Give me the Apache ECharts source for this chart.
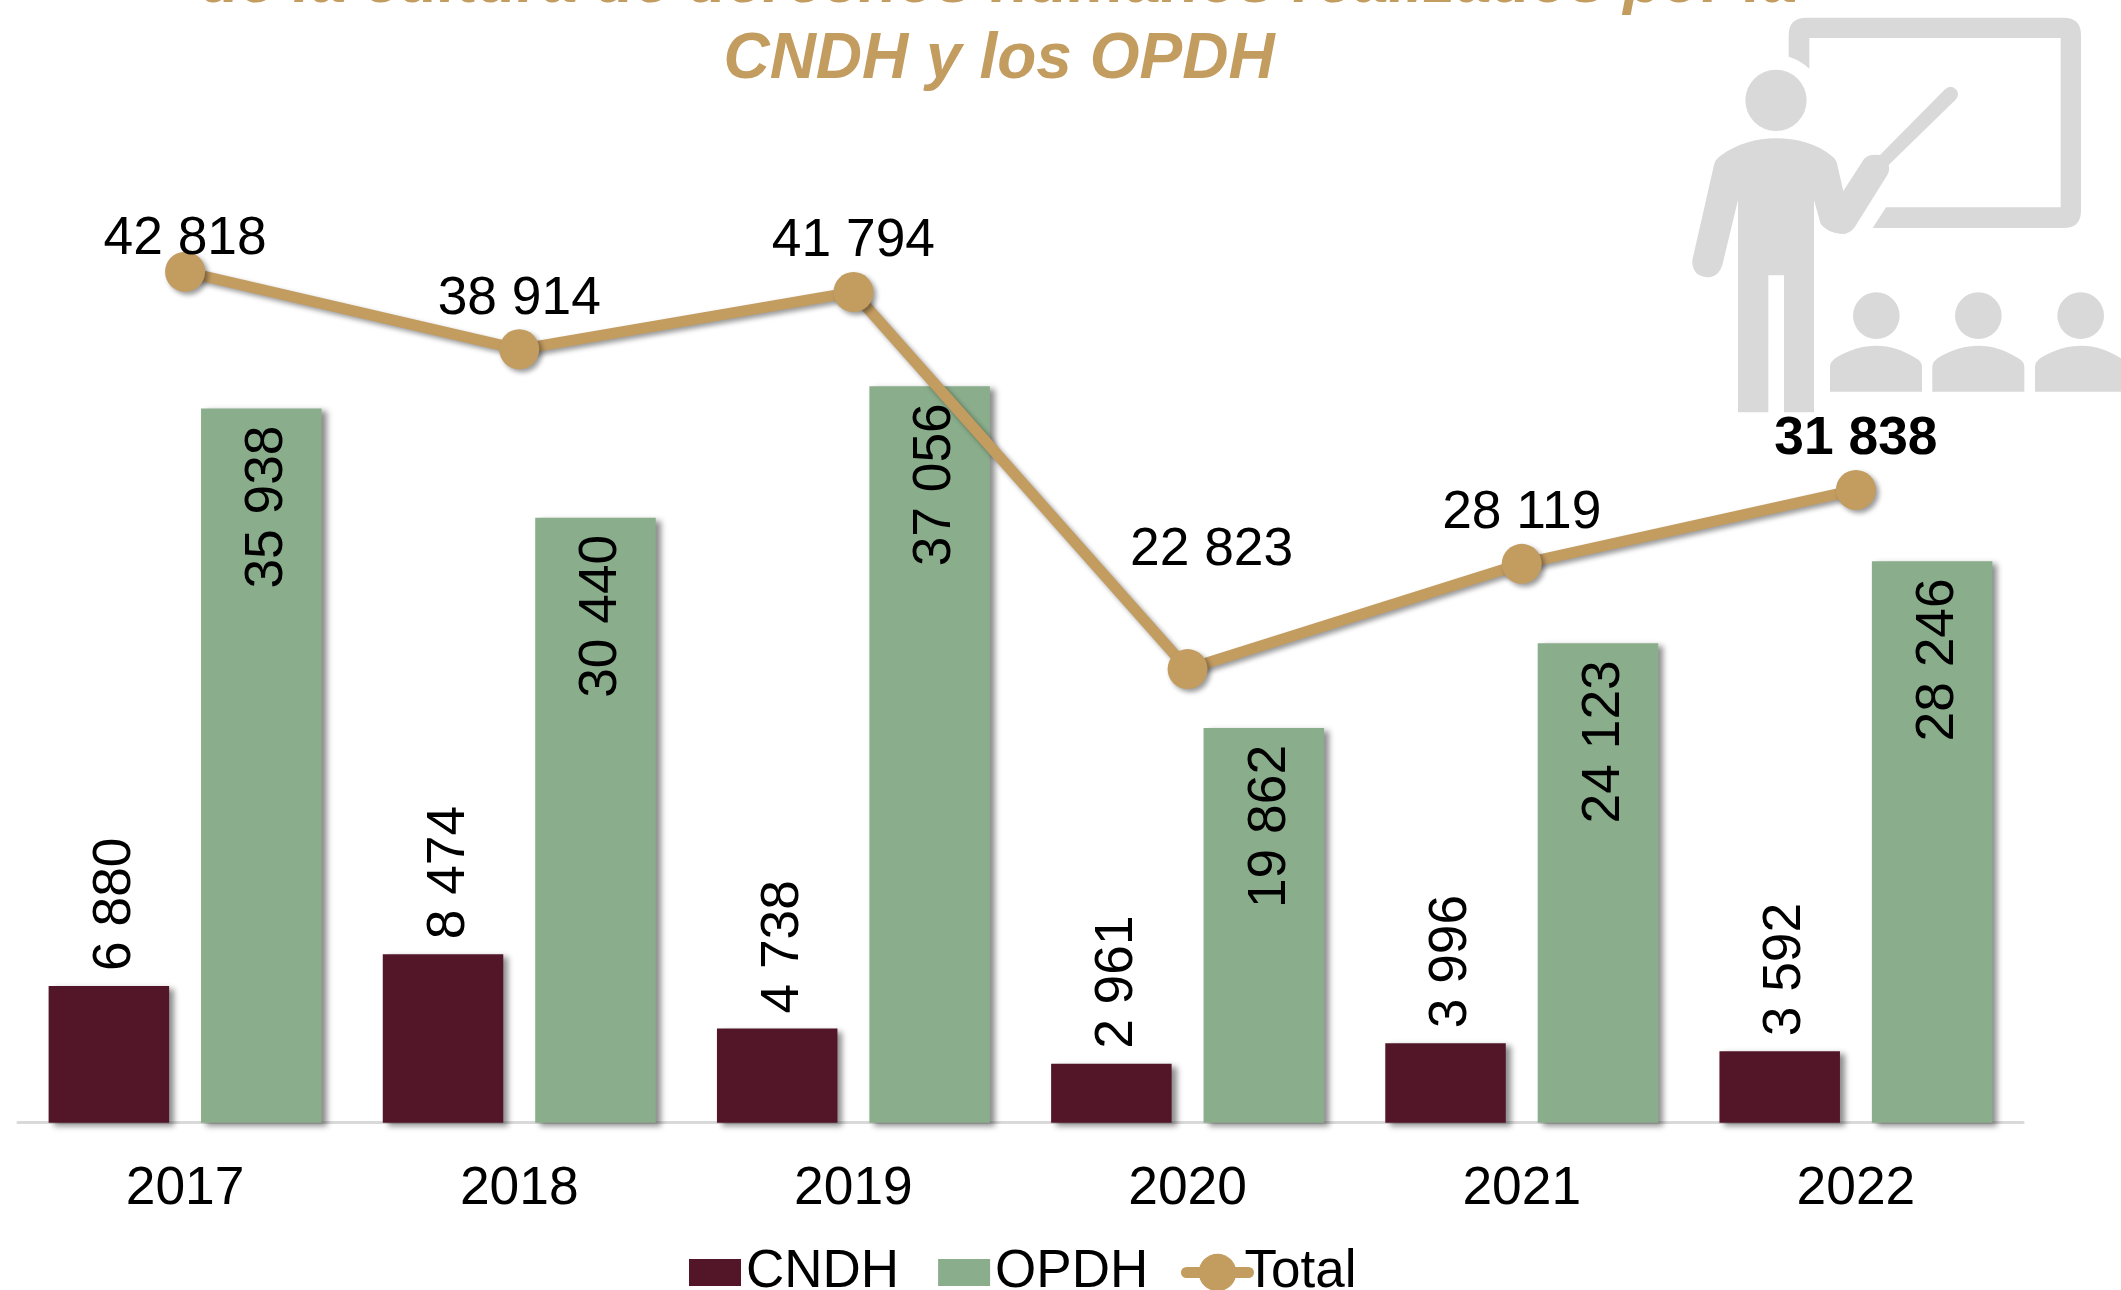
<!DOCTYPE html>
<html><head><meta charset="utf-8">
<script src="https://cdn.jsdelivr.net/npm/echarts@6/dist/echarts.min.js"></script>
<style>html,body{margin:0;padding:0;background:#fff}#c{width:2121px;height:1290px}</style>
</head><body><div id="c"></div>
<script>
const categories = ['2017','2018','2019','2020','2021','2022'];
const cndh = [6880,8474,4738,2961,3996,3592];
const opdh = [35938,30440,37056,19862,24123,28246];
const total = [42818,38914,41794,22823,28119,31838];
const titleLines = ['de la cultura de derechos humanos realizados por la','CNDH y los OPDH'];

const FONT = '"Liberation Sans", Arial, sans-serif';
const MAROON = '#521628', GREEN = '#8AAE8C', GOLD = '#C39C60', GREY = '#D9D9D9';
const fmt = p => String(p.value).replace(/\B(?=(\d{3})+$)/g, ' ');
const barShadow = {shadowColor:'rgba(0,0,0,0.45)', shadowBlur:6, shadowOffsetX:5, shadowOffsetY:3};

const student = dx => `M${540+dx} 1175V1100Q${540+dx} 1085 ${560+dx} 1072C${600+dx} 1048 ${640+dx} 1037 ${679+dx} 1037C${720+dx} 1037 ${760+dx} 1050 ${798+dx} 1075Q${816+dx} 1085 ${816+dx} 1100V1175Z`;
const circle = (x,y,r) => `M${x-r} ${y}A${r} ${r} 0 1 1 ${x+r} ${y}A${r} ${r} 0 1 1 ${x-r} ${y}Z`;
const iconPath = [
 'M416 170V105Q416 53 470 53H1240Q1293 53 1293 105V632Q1293 684 1240 684H668L708 622H1232V114H478V206Q450 180 416 170Z',
 circle(378,301,92),
 'M264 1237V600L217 795Q205 832 172 832Q125 828 127 780L192 495Q195 478 215 465C260 432 320 415 378 415C440 415 500 430 548 470Q560 480 562 495L580 573L640 480Q652 460 690 465L885 268Q902 252 920 270Q930 285 916 300L716 495Q720 515 712 525L615 680Q600 702 575 702Q535 700 512 672L492 600V1237H402V826H355V1237Z',
 circle(679,947,70), circle(985,947,70), circle(1292,947,70),
 student(0), student(307), student(615)
].join('');
const iconSvg = `<svg xmlns="http://www.w3.org/2000/svg" width="471" height="430" viewBox="0 0 1413 1290"><path fill="${GREY}" d="${iconPath}"/></svg>`;

const totalData = total.map((v,i) => {
  const item = {value:v};
  if (i === 0) item.label = {offset:[0,18]};
  if (i === 3) item.label = {offset:[24,-68]};
  if (i === 5) item.label = {fontWeight:'bold'};
  return item;
});

const chart = echarts.init(document.getElementById('c'), null, {renderer:'canvas'});
chart.setOption({
  animation:false,
  backgroundColor:'#fff',
  title:{
    text:titleLines.join('\n'), left:994, top:-59, textAlign:'center',
    textStyle:{fontFamily:FONT,fontSize:64,fontWeight:'bold',fontStyle:'italic',color:GOLD,lineHeight:76}
  },
  grid:{left:18,right:98,top:129,bottom:167.3,containLabel:false},
  legend:[
    {data:['CNDH','OPDH'],left:684,top:1241,itemWidth:52,itemHeight:27,itemGap:39,
     icon:'rect',textStyle:{fontFamily:FONT,fontSize:53,color:'#000'}},
    {data:['Total'],left:1176,top:1241,itemWidth:62,itemHeight:47,itemGap:0,
     lineStyle:{width:11,cap:'round'},
     textStyle:{fontFamily:FONT,fontSize:53,color:'#000',padding:[0,0,0,-9]}}
  ],
  xAxis:{type:'category',data:categories,
    axisLine:{show:true,lineStyle:{color:GREY,width:3}},axisTick:{show:false},
    axisLabel:{fontFamily:FONT,fontSize:53.33,color:'#000',margin:40}},
  yAxis:{type:'value',min:0,max:50000,show:false,splitLine:{show:false}},
  series:[
    {name:'CNDH',type:'bar',data:cndh,barWidth:120.5,barGap:'26.5%',
     itemStyle:Object.assign({color:MAROON},barShadow),
     label:{show:true,position:'top',rotate:90,align:'left',verticalAlign:'middle',distance:15,offset:[0,6],
       formatter:fmt,fontFamily:FONT,fontSize:53.33,color:'#000'}},
    {name:'OPDH',type:'bar',data:opdh,barWidth:120.5,barGap:'26.5%',
     itemStyle:Object.assign({color:GREEN},barShadow),
     label:{show:true,position:'insideTop',rotate:90,align:'right',verticalAlign:'middle',distance:17,offset:[0,6],
       formatter:fmt,fontFamily:FONT,fontSize:53.33,color:'#000'}},
    {name:'Total',type:'line',data:totalData,symbol:'circle',symbolSize:40,z:5,
     lineStyle:{color:GOLD,width:11,shadowColor:'rgba(0,0,0,0.4)',shadowBlur:5,shadowOffsetX:3,shadowOffsetY:3},
     itemStyle:{color:GOLD,shadowColor:'rgba(0,0,0,0.4)',shadowBlur:5,shadowOffsetX:3,shadowOffsetY:3},
     label:{show:true,position:'top',distance:4,formatter:fmt,fontFamily:FONT,fontSize:53.33,color:'#000'}}
  ],
  graphic:[{type:'image',x:1650,y:0,z:-1,silent:true,
    style:{image:'data:image/svg+xml;charset=utf-8,'+encodeURIComponent(iconSvg),width:471,height:430}}]
});
</script></body></html>
